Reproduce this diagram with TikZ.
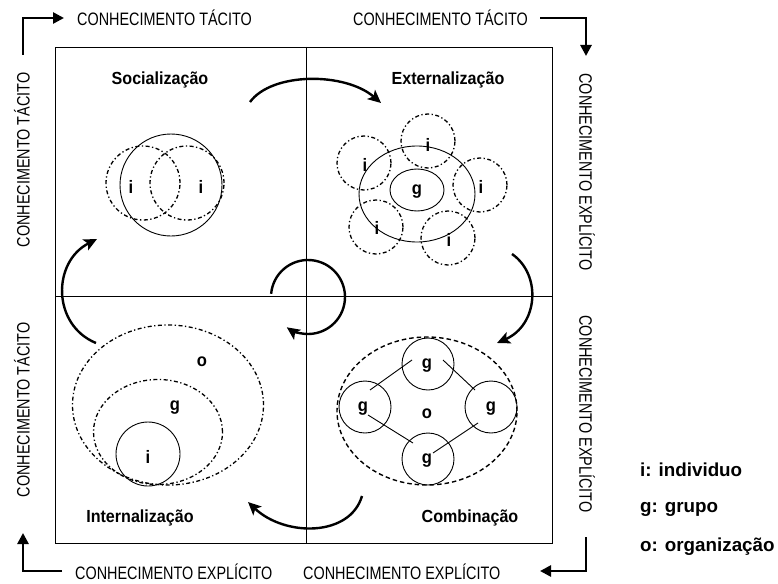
\documentclass[tikz,border=0pt]{standalone}
\usepackage{fontspec}
\setmainfont{Liberation Sans}
\newfontfamily\narrowfont{Liberation Sans}[FakeStretch=0.8]
\newfontfamily\labelfont{Liberation Sans}[FakeStretch=0.92]
\usetikzlibrary{shapes.geometric,arrows.meta}

\begin{document}
\begin{tikzpicture}[x=1pt,y=-1pt,
  axistext/.style={font=\narrowfont\fontsize{18}{20}\selectfont, inner sep=0pt},
  phase/.style={font=\labelfont\bfseries\fontsize{17.5}{20}\selectfont, inner sep=0pt},
  letter/.style={font=\labelfont\bfseries\fontsize{18}{20}\selectfont, inner sep=0pt},
  legend/.style={font=\bfseries\fontsize{18.8}{21}\selectfont, inner sep=0pt, anchor=west},
  corner/.style={line width=2.6pt, -{Triangle[length=11pt,width=11pt]}},
  turn/.style={line width=2.4pt, -{Stealth[length=13pt,width=12pt,inset=3pt]}},
  dashdot/.style={line width=1.3pt, dash pattern=on 4pt off 2.5pt on 1.3pt off 2.5pt},
  dashline/.style={line width=1.4pt, dash pattern=on 4.5pt off 3pt},
  solid ring/.style={line width=0.9pt},
  outline/.style={draw, inner sep=0pt, outer sep=0pt},
]
\useasboundingbox (0,0) rectangle (778,583);

% frame and quadrant axes
\draw[line width=0.9pt] (55,47) rectangle (552,543);
\coordinate (vtop) at (306,47);
\coordinate (vbot) at (306,543);
\coordinate (hleft) at (55,296);
\coordinate (hright) at (552,296);
\draw[line width=0.9pt] (vtop) -- (vbot);
\draw[line width=0.9pt] (hleft) -- (hright);

% axis captions
\node[axistext, anchor=west] (topL) at (77,18) {CONHECIMENTO TÁCITO};
\node[axistext, anchor=east] (topR) at (528,18) {CONHECIMENTO TÁCITO};
\node[axistext, anchor=west] (botL) at (75,572) {CONHECIMENTO EXPLÍCITO};
\node[axistext, anchor=west] (botR) at (303,572) {CONHECIMENTO EXPLÍCITO};
\node[axistext, rotate=90] (leftT) at (22,160) {CONHECIMENTO TÁCITO};
\node[axistext, rotate=90] (leftB) at (22,410) {CONHECIMENTO TÁCITO};
\node[axistext, rotate=-90] (rightT) at (587,172) {CONHECIMENTO EXPLÍCITO};
\node[axistext, rotate=-90] (rightB) at (587,414) {CONHECIMENTO EXPLÍCITO};

% corner arrows
\coordinate (tlA) at (23,55);  \coordinate (tlB) at (23,18);  \coordinate (tlC) at (64,18);
\coordinate (trA) at (540,18); \coordinate (trB) at (586,18); \coordinate (trC) at (586,56);
\coordinate (brA) at (586,537);\coordinate (brB) at (586,571);\coordinate (brC) at (540,571);
\coordinate (blA) at (62,571); \coordinate (blB) at (23,571); \coordinate (blC) at (23,533);
\draw[corner] (tlA) -- (tlB) -- (tlC);
\draw[corner] (trA) -- (trB) -- (trC);
\draw[corner] (brA) -- (brB) -- (brC);
\draw[corner] (blA) -- (blB) -- (blC);

% phase names
\node[phase] (soc) at (160,80) {Socialização};
\node[phase] (ext) at (448,80) {Externalização};
\node[phase] (int) at (140,518) {Internalização};
\node[phase] (com) at (470,518) {Combinação};

% Socialização: two individuals inside one circle
\node[outline, circle, solid ring, minimum size=102pt] (socGroup) at (171,185) {};
\node[outline, circle, dashdot, minimum size=74pt] (socI1) at (143,183) {};
\node[outline, circle, dashdot, minimum size=74pt] (socI2) at (187,183) {};
\node[letter] (socL1) at (131,187) {i};
\node[letter] (socL2) at (201,187) {i};

% Externalização: individuals around a group
\node[outline, ellipse, solid ring, minimum width=116pt, minimum height=96pt] (extOuter) at (417,194) {};
\node[outline, ellipse, solid ring, minimum width=54pt, minimum height=42pt] (extG) at (417,190) {};
\node[letter] (extGL) at (417,192) {g};
\node[outline, circle, dashdot, minimum size=54pt] (extI1) at (428,141) {};
\node[outline, circle, dashdot, minimum size=54pt] (extI2) at (364,163) {};
\node[outline, circle, dashdot, minimum size=54pt] (extI3) at (480,185) {};
\node[outline, circle, dashdot, minimum size=54pt] (extI4) at (376,227) {};
\node[outline, circle, dashdot, minimum size=54pt] (extI5) at (448,238) {};
\node[letter] (extL1) at (428,145) {i};
\node[letter] (extL2) at (365,165) {i};
\node[letter] (extL3) at (481,187) {i};
\node[letter] (extL4) at (377,228) {i};
\node[letter] (extL5) at (449,240) {i};

% Internalização: nested individual, group, organisation
\node[outline, ellipse, dashdot, minimum width=191pt, minimum height=160pt] (intO) at (168,405) {};
\node[outline, ellipse, dashdot, minimum width=129pt, minimum height=105pt] (intG) at (158,432) {};
\node[outline, circle, solid ring, minimum size=64pt] (intI) at (148,454) {};
\node[letter] (intLO) at (202,362) {o};
\node[letter] (intLG) at (175,408) {g};
\node[letter] (intLI) at (148,457) {i};

% Combinação: linked groups inside the organisation
\node[outline, ellipse, dashline, minimum width=180pt, minimum height=148pt] (comO) at (427,411) {};
\node[outline, circle, solid ring, minimum size=52pt] (comGT) at (428,364) {};
\node[outline, circle, solid ring, minimum size=52pt] (comGL) at (365,407) {};
\node[outline, circle, solid ring, minimum size=52pt] (comGR) at (491,407) {};
\node[outline, circle, solid ring, minimum size=52pt] (comGB) at (428,459) {};
\node[letter] (comLT) at (427,366) {g};
\node[letter] (comLL) at (363,409) {g};
\node[letter] (comLR) at (491,409) {g};
\node[letter] (comLB) at (427,461) {g};
\node[letter] (comLO) at (427,414) {o};
\coordinate (l1a) at (370,390); \coordinate (l1b) at (412,360);
\coordinate (l2a) at (443,360); \coordinate (l2b) at (475,390);
\coordinate (l3a) at (368,415); \coordinate (l3b) at (413,443);
\coordinate (l4a) at (478,423); \coordinate (l4b) at (433,453);
\draw[line width=0.9pt] (l1a) -- (l1b);
\draw[line width=0.9pt] (l2a) -- (l2b);
\draw[line width=0.9pt] (l3a) -- (l3b);
\draw[line width=0.9pt] (l4a) -- (l4b);

% spiral cycle arrows between the quadrants
\coordinate (s1) at (250,102); \coordinate (s2) at (381,103);
\coordinate (e1) at (512,254); \coordinate (e2) at (497,343);
\coordinate (c1) at (362,496); \coordinate (c2) at (248,502);
\coordinate (i1) at (96,343);  \coordinate (i2) at (97,239);
\draw[turn] (s1) .. controls (272,72) and (345,72) .. (s2);
\draw[turn] (e1) .. controls (542,275) and (538,325) .. (e2);
\draw[turn] (c1) .. controls (350,537) and (285,537) .. (c2);
\draw[turn] (i1) .. controls (52,325) and (52,262) .. (i2);

% central turning arrow
\coordinate (hub) at (308,297);
\draw[turn] (hub) ++(-175:37) arc[start angle=-175, end angle=125, radius=37];

% legend
\node[legend] (legI) at (640,470) {i: individuo};
\node[legend] (legG) at (640,509) {g: grupo};
\node[legend] (legO) at (640,547) {o: organização};
\end{tikzpicture}
\end{document}
